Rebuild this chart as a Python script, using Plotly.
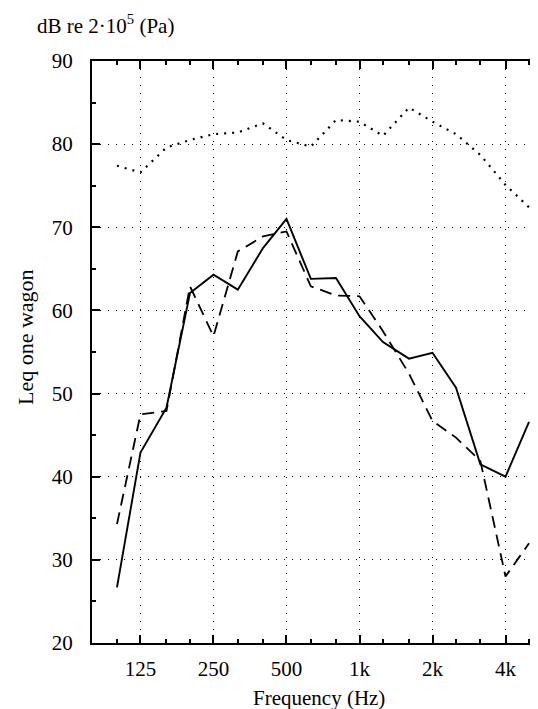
import plotly.graph_objects as go

# Third-octave band centre frequencies (Hz)
freqs = [100, 125, 160, 200, 250, 315, 400, 500, 630, 800,
         1000, 1250, 1600, 2000, 2500, 3150, 4000, 5000]

# Leq one wagon (dB)
dotted_vals = [77.4, 76.6, 79.6, 80.5, 81.2, 81.4, 82.5, 80.5, 79.7, 82.9,
               82.7, 81.0, 84.4, 82.7, 81.2, 78.7, 75.1, 72.4]
solid_vals = [26.7, 42.9, 48.3, 62.1, 64.3, 62.5, 67.5, 71.0, 63.8, 63.9,
              59.3, 56.2, 54.2, 54.9, 50.7, 41.5, 40.0, 46.6]
dashed_vals = [34.3, 47.5, 47.9, 62.9, 56.9, 67.1, 68.9, 69.5, 62.9, 61.8,
               61.7, 57.5, 52.4, 46.7, 44.7, 41.9, 28.0, 32.0]

x_tickvals = [125, 250, 500, 1000, 2000, 4000]
x_ticktext = ["125", "250", "500", "1k", "2k", "4k"]
y_tickvals = [20, 30, 40, 50, 60, 70, 80, 90]

FONT = "Liberation Serif, Times New Roman, serif"
FS = 21

fig = go.Figure()
fig.add_trace(go.Scatter(x=freqs, y=dotted_vals, mode="lines",
                         line=dict(color="black", width=2.2, dash="2px,6px"),
                         showlegend=False))
fig.add_trace(go.Scatter(x=freqs, y=dashed_vals, mode="lines",
                         line=dict(color="black", width=1.8, dash="12px,7px"),
                         showlegend=False))
fig.add_trace(go.Scatter(x=freqs, y=solid_vals, mode="lines",
                         line=dict(color="black", width=1.9),
                         showlegend=False))

fig.update_layout(
    width=538, height=709,
    margin=dict(l=84, r=0, t=53, b=74),
    paper_bgcolor="white", plot_bgcolor="white",
    font=dict(family=FONT, size=FS, color="black"),
    xaxis=dict(
        type="log", range=[1.897, 3.769],
        tickvals=x_tickvals, ticktext=x_ticktext,
        ticks="inside", ticklen=8, tickwidth=2, tickcolor="black",
        showline=True, linewidth=2, linecolor="black", mirror="ticks",
        showgrid=True, gridcolor="black", gridwidth=1, griddash="1px,7px",
        zeroline=False, ticklabelstandoff=6,
        tickfont=dict(family=FONT, size=FS),
        minor=dict(tickvals=freqs, ticks="inside", ticklen=4,
                   tickwidth=1.5, tickcolor="black", showgrid=False),
    ),
    yaxis=dict(
        range=[20, 90], tickvals=y_tickvals,
        ticks="inside", ticklen=8, tickwidth=2, tickcolor="black",
        showline=True, linewidth=2, linecolor="black", mirror=False,
        showgrid=True, gridcolor="black", gridwidth=1, griddash="1px,7px",
        zeroline=False, ticklabelstandoff=13,
        tickfont=dict(family=FONT, size=FS),
        minor=dict(dtick=5, tick0=0, ticks="inside", ticklen=4,
                   tickwidth=1.5, tickcolor="black", showgrid=False),
    ),
    annotations=[
        dict(text="dB re 2·10<sup>5</sup> (Pa)", xref="paper", yref="paper",
             x=-0.1255, y=1.063, xanchor="left", yanchor="middle",
             showarrow=False, font=dict(family=FONT, size=FS)),
        dict(text="Leq one wagon", xref="paper", yref="paper",
             x=-0.145, y=0.526, xanchor="center", yanchor="middle",
             textangle=-90, showarrow=False, font=dict(family=FONT, size=22)),
        dict(text="Frequency (Hz)", xref="paper", yref="paper",
             x=0.5, y=-0.0945, xanchor="center", yanchor="middle",
             showarrow=False, font=dict(family=FONT, size=FS)),
    ],
)

fig.write_html("out.html")
